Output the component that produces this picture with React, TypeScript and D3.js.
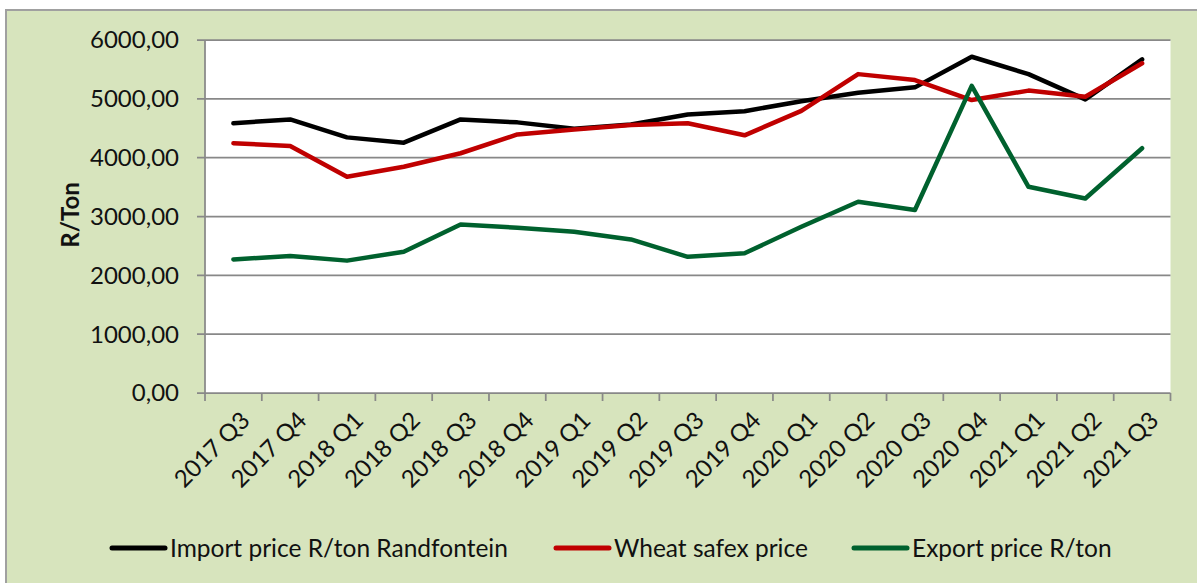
import React from "react";
import * as d3 from "d3";

const categories = [
  "2017 Q3", "2017 Q4", "2018 Q1", "2018 Q2", "2018 Q3", "2018 Q4",
  "2019 Q1", "2019 Q2", "2019 Q3", "2019 Q4", "2020 Q1", "2020 Q2",
  "2020 Q3", "2020 Q4", "2021 Q1", "2021 Q2", "2021 Q3",
];
const importPrice = [4585, 4650, 4345, 4255, 4650, 4600, 4490, 4565, 4735, 4790, 4960, 5105, 5195, 5715, 5420, 4990, 5670];
const safexPrice = [4245, 4200, 3675, 3845, 4075, 4395, 4480, 4555, 4585, 4380, 4795, 5420, 5320, 4980, 5140, 5035, 5605];
const exportPrice = [2270, 2330, 2250, 2400, 2865, 2810, 2740, 2610, 2315, 2375, 2825, 3250, 3110, 5220, 3505, 3305, 4160];
const yTicks = [0, 1000, 2000, 3000, 4000, 5000, 6000];

const seriesNames = ["Import price R/ton Randfontein", "Wheat safex price", "Export price R/ton"];
const seriesColors = ["#000000", "#C00000", "#00612E"];

const W = 1197;
const H = 583;
const plot = { left: 205, right: 1170.5, top: 40, bottom: 393 };
const FONT = "Lato, 'Open Sans', sans-serif";

export default function App() {
  const x = d3.scaleBand<string>().domain(categories).range([plot.left, plot.right]).paddingInner(0).paddingOuter(0);
  const y = d3.scaleLinear().domain([0, 6000]).range([plot.bottom, plot.top]);
  const cx = (c: string) => (x(c) as number) + x.bandwidth() / 2;
  const line = d3
    .line<number>()
    .x((_, i) => cx(categories[i]))
    .y((d) => y(d));
  const series = [importPrice, safexPrice, exportPrice];
  const fmt = (v: number) => v.toFixed(2).replace(".", ",");
  const tickPositions = categories.map((c) => x(c) as number).concat([plot.right]);
  const legendX = [110, 554, 852];

  return (
    <svg width={W} height={H} style={{ display: "block" }} xmlns="http://www.w3.org/2000/svg">
      <style>{`body{margin:0}`}</style>
      <rect x={0} y={0} width={W} height={H} fill="#ffffff" />
      <rect x={6} y={10} width={W + 10} height={H + 10} fill="#D7E4BD" stroke="#a0a0a0" strokeWidth={2} />
      <rect x={plot.left} y={plot.top} width={plot.right - plot.left} height={plot.bottom - plot.top} fill="#ffffff" />
      {yTicks.map((t) => (
        <g key={t}>
          <line x1={plot.left - 8} x2={plot.right} y1={y(t)} y2={y(t)} stroke="#888888" strokeWidth={1.75} />
          <text x={179} y={y(t)} dy="0.35em" textAnchor="end" fontFamily={FONT} fontSize={24} fill="#111">
            {fmt(t)}
          </text>
        </g>
      ))}
      <line x1={plot.left} x2={plot.left} y1={plot.top} y2={plot.bottom} stroke="#888888" strokeWidth={1.75} />
      {tickPositions.map((p, i) => (
        <line key={i} x1={p} x2={p} y1={plot.bottom} y2={plot.bottom + 8} stroke="#888888" strokeWidth={1.75} />
      ))}
      {categories.map((c) => (
        <text
          key={c}
          transform={`translate(${cx(c) + 6},${plot.bottom + 17}) rotate(-45)`}
          textAnchor="end"
          dy="0.7em"
          fontFamily={FONT}
          fontSize={24}
          fill="#111"
        >
          {c}
        </text>
      ))}
      <text
        transform={`translate(79,215) rotate(-90)`}
        textAnchor="middle"
        fontFamily={FONT}
        fontWeight="bold"
        fontSize={24}
        fill="#111"
      >
        R/Ton
      </text>
      {series.map((s, i) => (
        <path key={i} d={line(s) || ""} fill="none" stroke={seriesColors[i]} strokeWidth={4.5} strokeLinejoin="round" strokeLinecap="round" />
      ))}
      {seriesNames.map((n, i) => (
        <g key={n}>
          <line x1={legendX[i] + 2} x2={legendX[i] + 55} y1={548} y2={548} stroke={seriesColors[i]} strokeWidth={5} strokeLinecap="round" />
          <text x={legendX[i] + 60} y={548} dy="0.35em" fontFamily={FONT} fontSize={24.5} fill="#111">
            {n}
          </text>
        </g>
      ))}
    </svg>
  );
}
